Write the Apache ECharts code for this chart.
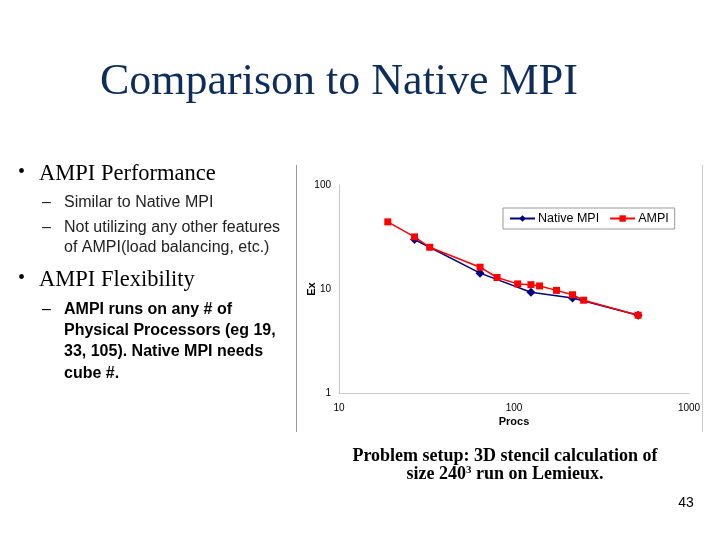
<!DOCTYPE html>
<html>
<head>
<meta charset="utf-8">
<script src="https://cdn.jsdelivr.net/npm/echarts@6/dist/echarts.min.js"></script>
<style>html,body{margin:0;padding:0;background:#fff}#c{width:720px;height:540px}</style>
</head>
<body>
<div id="c"></div>
<script>
const titleText = 'Comparison to Native MPI';
const seriesNames = ['Native MPI', 'AMPI'];
const nativeProcs = [27, 64, 125, 216, 512];
const nativeEx = [29.9, 14.2, 9.3, 8.2, 5.6];
const ampiProcs = [19, 27, 33, 64, 80, 105, 125, 140, 175, 216, 250, 512];
const ampiEx = [44.2, 31.7, 25.2, 16.2, 12.9, 11.2, 11.0, 10.7, 9.7, 8.8, 7.8, 5.6];
const xTicks = [10, 100, 1000];
const yTicks = [1, 10, 100];

const chart = echarts.init(document.getElementById('c'));
const serif = '"Liberation Serif", "Times New Roman", serif';
const sans = '"Liberation Sans", Arial, sans-serif';

function txt(x, y, text, font, opts) {
  return {
    type: 'text', x: x, y: y,
    style: Object.assign({text: text, font: font, fill: '#000', verticalAlign: 'middle', align: 'left'}, opts || {})
  };
}

const graphics = [
  txt(100, 82, titleText, '44px ' + serif, {fill: '#0d2d5c'}),
  txt(18, 173, '•', '20px ' + serif),
  txt(39, 174, 'AMPI Performance', '22.5px ' + serif),
  txt(42, 203, '–', '16px ' + sans, {fill: '#222'}),
  txt(64, 203, 'Similar to Native MPI', '16px ' + sans, {fill: '#222'}),
  txt(42, 228, '–', '16px ' + sans, {fill: '#222'}),
  txt(64, 228, 'Not utilizing any other features', '16px ' + sans, {fill: '#222'}),
  txt(64, 248, 'of AMPI(load balancing, etc.)', '16px ' + sans, {fill: '#222'}),
  txt(18, 279, '•', '20px ' + serif),
  txt(39, 280, 'AMPI Flexibility', '22.5px ' + serif),
  txt(42, 310, '–', '16px ' + sans),
  txt(64, 310, 'AMPI runs on any # of', 'bold 16px ' + sans),
  txt(64, 331, 'Physical Processors (eg 19,', 'bold 16px ' + sans),
  txt(64, 352, '33, 105). Native MPI needs', 'bold 16px ' + sans),
  txt(64, 374, 'cube #.', 'bold 16px ' + sans),
  txt(505, 456, 'Problem setup: 3D stencil calculation of', 'bold 18px ' + serif, {align: 'center'}),
  {
    type: 'text', x: 505, y: 474,
    style: {
      text: '{a|size 240}{s|3}{a| run on Lemieux.}',
      align: 'center', verticalAlign: 'middle',
      rich: {
        a: {font: 'bold 18px ' + serif, fill: '#000'},
        s: {font: 'bold 11px ' + serif, fill: '#000', verticalAlign: 'top', padding: [0, 0, 7, 0]}
      }
    }
  },
  txt(686, 503, '43', '14px ' + sans, {align: 'center'}),
  {type: 'line', shape: {x1: 296.5, y1: 165, x2: 296.5, y2: 432}, style: {stroke: '#999', lineWidth: 1}},
  {type: 'line', shape: {x1: 702.5, y1: 165, x2: 702.5, y2: 432}, style: {stroke: '#ccc', lineWidth: 1}}
];

chart.setOption({
  backgroundColor: '#fff',
  animation: false,
  grid: {left: 339, top: 185, right: 31, bottom: 147},
  legend: {
    left: 503, top: 208,
    data: seriesNames,
    borderColor: '#999', borderWidth: 1, padding: [4, 6],
    itemWidth: 25, itemHeight: 8, itemGap: 10,
    textStyle: {fontFamily: sans, fontSize: 12.5, color: '#000', padding: [0, 0, 0, -2]}
  },
  xAxis: {
    type: 'log', logBase: 10, min: xTicks[0], max: xTicks[xTicks.length - 1],
    name: 'Procs', nameLocation: 'middle', nameGap: 23,
    nameTextStyle: {fontFamily: sans, fontSize: 11, fontWeight: 'bold', color: '#000'},
    axisLine: {lineStyle: {color: '#c8c8c8', width: 1}},
    axisTick: {show: false},
    splitLine: {show: false},
    minorTick: {show: false},
    axisLabel: {fontFamily: sans, fontSize: 10, color: '#000', margin: 10,
      formatter: v => xTicks.indexOf(Math.round(v)) >= 0 ? String(Math.round(v)) : ''}
  },
  yAxis: {
    type: 'log', logBase: 10, min: yTicks[0], max: yTicks[yTicks.length - 1],
    name: 'Ex', nameLocation: 'middle', nameGap: 22, nameRotate: 90,
    nameMoveOverlap: false,
    nameTextStyle: {fontFamily: sans, fontSize: 11, fontWeight: 'bold', color: '#000'},
    axisLine: {show: true, lineStyle: {color: '#c8c8c8', width: 1}},
    axisTick: {show: false},
    splitLine: {show: false},
    axisLabel: {fontFamily: sans, fontSize: 10, color: '#000', margin: 8,
      formatter: v => yTicks.indexOf(Math.round(v)) >= 0 ? String(Math.round(v)) : ''}
  },
  series: [
    {
      name: seriesNames[0], type: 'line',
      data: nativeProcs.map((p, i) => [p, nativeEx[i]]),
      symbol: 'diamond', symbolSize: 9,
      itemStyle: {color: '#000080'},
      lineStyle: {color: '#000080', width: 1.5}
    },
    {
      name: seriesNames[1], type: 'line',
      data: ampiProcs.map((p, i) => [p, ampiEx[i]]),
      symbol: 'rect', symbolSize: 7,
      itemStyle: {color: '#ff0000'},
      lineStyle: {color: '#ff0000', width: 1.5}
    }
  ],
  graphic: graphics
});
</script>
</body>
</html>
